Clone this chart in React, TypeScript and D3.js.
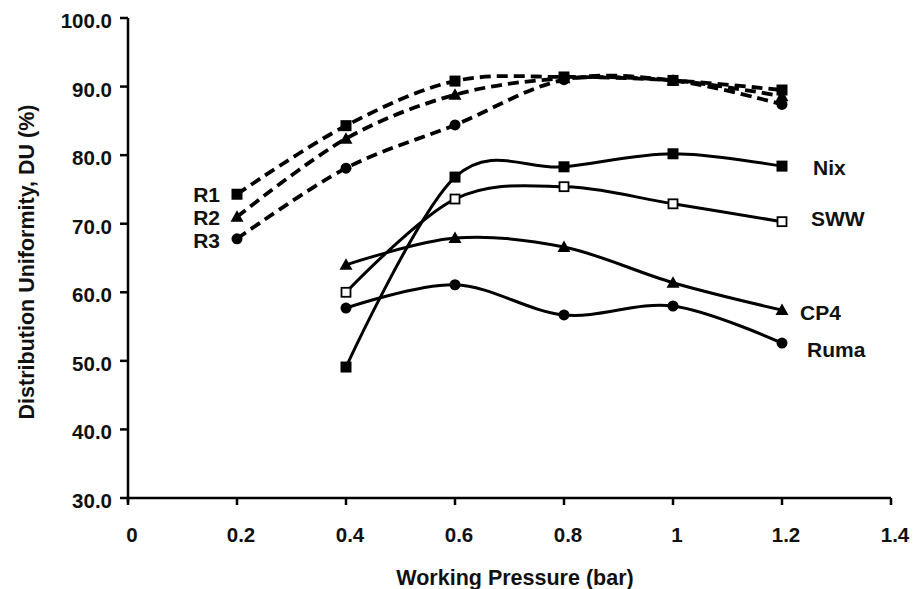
import React from "react";
import * as d3 from "d3";

const pressuresR = [0.2, 0.4, 0.6, 0.8, 1.0, 1.2];
const pressures = [0.4, 0.6, 0.8, 1.0, 1.2];
const r1 = [74.3, 84.3, 90.8, 91.4, 90.9, 89.5];
const r2 = [71.0, 82.4, 88.8, 91.2, 90.9, 88.6];
const r3 = [67.8, 78.1, 84.4, 91.0, 90.9, 87.4];
const nix = [49.1, 76.8, 78.3, 80.2, 78.4];
const sww = [60.0, 73.6, 75.4, 72.9, 70.3];
const cp4 = [64.0, 67.9, 66.6, 61.4, 57.4];
const ruma = [57.7, 61.1, 56.7, 58.0, 52.6];
const xTicks = [0, 0.2, 0.4, 0.6, 0.8, 1, 1.2, 1.4];
const yTicks = [30, 40, 50, 60, 70, 80, 90, 100];

const FONT = "'Liberation Sans', Arial, Helvetica, sans-serif";

type Series = { name: string; xs: number[]; ys: number[]; marker: string; dashed: boolean; lx: number; ly: number; anchor: string };

const series: Series[] = [
  { name: "R1", xs: pressuresR, ys: r1, marker: "square", dashed: true, lx: 220, ly: 194, anchor: "end" },
  { name: "R2", xs: pressuresR, ys: r2, marker: "triangle", dashed: true, lx: 220, ly: 217, anchor: "end" },
  { name: "R3", xs: pressuresR, ys: r3, marker: "circle", dashed: true, lx: 220, ly: 240, anchor: "end" },
  { name: "Nix", xs: pressures, ys: nix, marker: "square", dashed: false, lx: 813, ly: 167, anchor: "start" },
  { name: "SWW", xs: pressures, ys: sww, marker: "open", dashed: false, lx: 811, ly: 218, anchor: "start" },
  { name: "CP4", xs: pressures, ys: cp4, marker: "triangle", dashed: false, lx: 800, ly: 312, anchor: "start" },
  { name: "Ruma", xs: pressures, ys: ruma, marker: "circle", dashed: false, lx: 807, ly: 349, anchor: "start" },
];

function Marker({ type, cx, cy }: { type: string; cx: number; cy: number }) {
  if (type === "square") return <rect x={cx - 5.5} y={cy - 5.5} width={11} height={11} fill="#000" />;
  if (type === "open")
    return (
      <g>
        <rect x={cx - 4.5} y={cy - 4.5} width={9} height={9} fill="#fff" stroke="#000" strokeWidth={1.8} />
      </g>
    );
  if (type === "triangle") {
    const p = d3.path();
    p.moveTo(cx, cy - 6.5);
    p.lineTo(cx + 6.5, cy + 5);
    p.lineTo(cx - 6.5, cy + 5);
    p.closePath();
    return <path d={p.toString()} fill="#000" />;
  }
  return <circle cx={cx} cy={cy} r={5.5} fill="#000" />;
}

export default function App() {
  const W = 916, H = 589;
  const x = d3.scaleLinear().domain([0, 1.4]).range([128, 891]);
  const y = d3.scaleLinear().domain([30, 100]).range([498, 18]);
  const line = d3
    .line<[number, number]>()
    .x((d) => x(d[0]))
    .y((d) => y(d[1]))
    .curve(d3.curveCardinal.tension(0));

  return (
    <svg width={W} height={H} style={{ position: "absolute", left: 0, top: 0, background: "#fff" }} fontFamily={FONT}>
      <rect x={0} y={0} width={W} height={H} fill="#fff" />
      {/* axes */}
      <line x1={x(0)} x2={x(0)} y1={y(100)} y2={y(30) + 5} stroke="#000" strokeWidth={2.5} />
      <line x1={x(0) - 1} x2={x(1.4)} y1={y(30)} y2={y(30)} stroke="#000" strokeWidth={2.5} />
      {yTicks.map((t) => (
        <g key={"y" + t}>
          <line x1={x(0) - 8} x2={x(0)} y1={y(t)} y2={y(t)} stroke="#000" strokeWidth={2.5} />
          <text x={112} y={y(t) + 10} textAnchor="end" fontSize={20.5} fontWeight="bold" fill="#111">
            {t.toFixed(1)}
          </text>
        </g>
      ))}
      {xTicks.map((t) => (
        <g key={"x" + t}>
          <line x1={x(t)} x2={x(t)} y1={y(30)} y2={y(30) + 7} stroke="#000" strokeWidth={2.5} />
          <text x={x(t) + 4} y={542} textAnchor="middle" fontSize={20.5} fontWeight="bold" fill="#111">
            {String(t)}
          </text>
        </g>
      ))}
      <text x={515} y={585} textAnchor="middle" fontSize={21.5} fontWeight="bold" fill="#111">
        Working Pressure (bar)
      </text>
      <text
        transform={`translate(34,262) rotate(-90)`}
        textAnchor="middle"
        fontSize={21.5}
        fontWeight="bold"
        fill="#111"
      >
        Distribution Uniformity, DU (%)
      </text>
      {/* series */}
      {series.map((s) => {
        const pts: [number, number][] = s.xs.map((v, i) => [v, s.ys[i]]);
        return (
          <g key={s.name}>
            <path
              d={line(pts) || ""}
              fill="none"
              stroke="#000"
              strokeWidth={s.dashed ? 3.8 : 3}
              strokeDasharray={s.dashed ? "11 6" : undefined}
            />
            {pts.map((p, i) => (
              <Marker key={i} type={s.marker} cx={x(p[0])} cy={y(p[1])} />
            ))}
            <text x={s.lx} y={s.ly + 7.5} textAnchor={s.anchor} fontSize={21} fontWeight="bold" fill="#111">
              {s.name}
            </text>
          </g>
        );
      })}
    </svg>
  );
}
